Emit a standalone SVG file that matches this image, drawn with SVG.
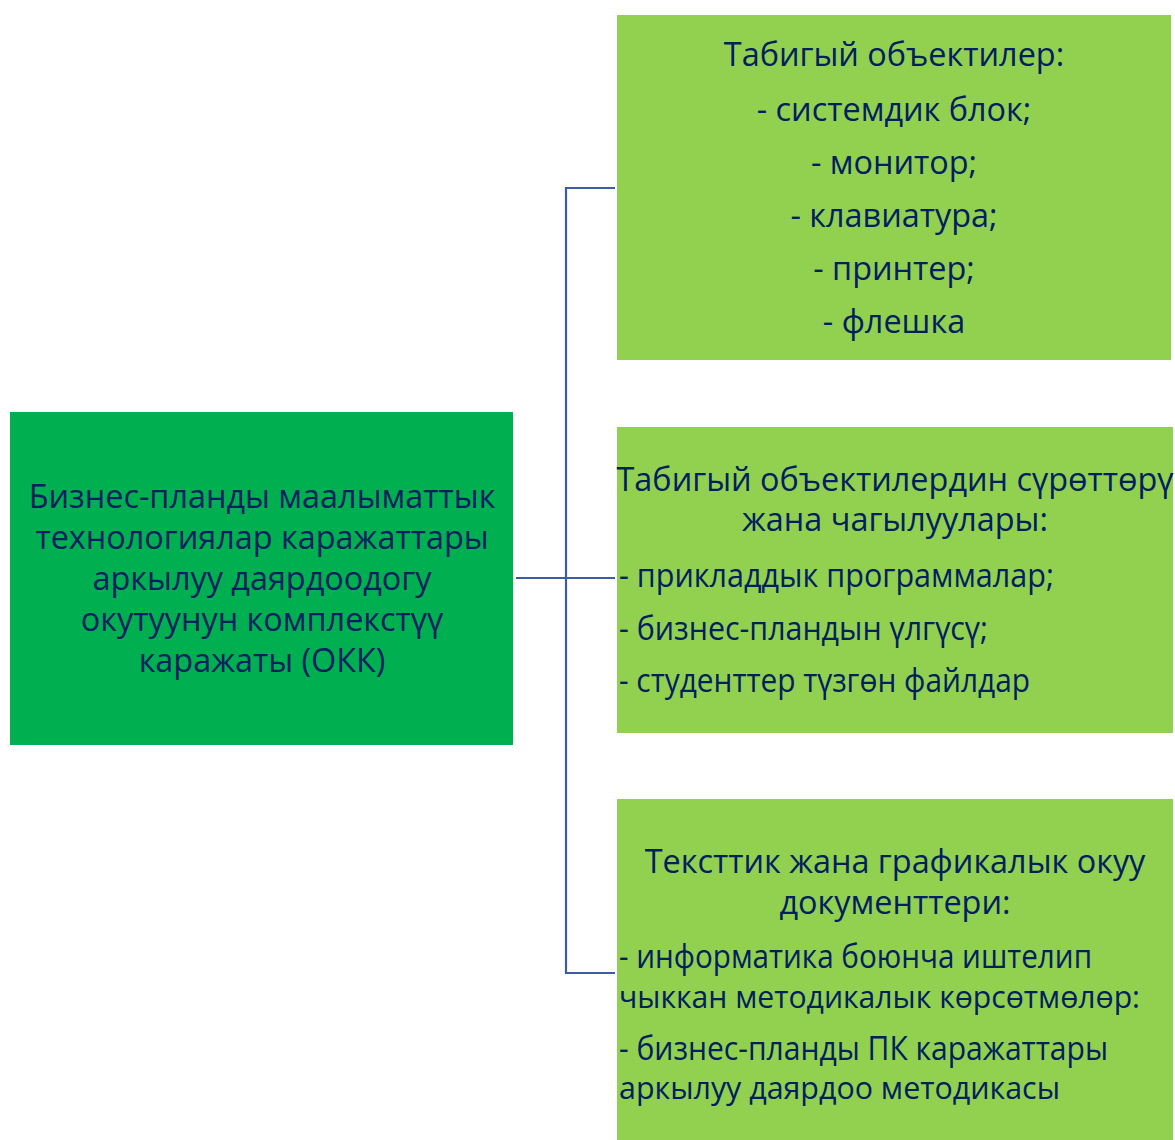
<svg xmlns="http://www.w3.org/2000/svg" width="1175" height="1140" viewBox="0 0 1175 1140">
<style>
.t{font-family:"Open Sans","Noto Sans","Liberation Sans",sans-serif;font-size:32.4px;fill:#002060}
.s{font-size:30.4px}
.c{text-anchor:middle}
.main{fill:#00B050}
.sub{fill:#92D050}
.ln{stroke:#3C5DA0;stroke-width:2.2;fill:none}
</style>
<rect width="1175" height="1140" fill="#ffffff"/>
<g id="connectors">
<polyline class="ln" points="615,188 566,188 566,973 615,973"/>
<line class="ln" x1="516" y1="578" x2="615" y2="578"/>
</g>
<g id="node-main">
<rect class="main" x="10" y="412" width="503" height="333"/>
<text class="t c" x="262" y="508">Бизнес-планды маалыматтык</text>
<text class="t c" x="262" y="549">технологиялар каражаттары</text>
<text class="t c" x="262" y="590">аркылуу даярдоодогу</text>
<text class="t c" x="262" y="631">окутуунун комплекстүү</text>
<text class="t c" x="262" y="672">каражаты (ОКК)</text>
</g>
<g id="node-1">
<rect class="sub" x="617" y="15" width="554" height="345"/>
<text class="t c" x="894" y="66">Табигый объектилер:</text>
<text class="t c" x="894" y="121">- системдик блок;</text>
<text class="t c" x="894" y="174">- монитор;</text>
<text class="t c" x="894" y="227">- клавиатура;</text>
<text class="t c" x="894" y="280">- принтер;</text>
<text class="t c" x="894" y="333">- флешка</text>
</g>
<g id="node-2">
<rect class="sub" x="617" y="427" width="556" height="306"/>
<text class="t c" x="895" y="491">Табигый объектилердин сүрөттөрү</text>
<text class="t c" x="895" y="531">жана чагылуулары:</text>
<text class="t" x="619" y="587" textLength="435" lengthAdjust="spacingAndGlyphs">- прикладдык программалар;</text>
<text class="t" x="619" y="640" textLength="369" lengthAdjust="spacingAndGlyphs">- бизнес-пландын үлгүсү;</text>
<text class="t" x="619" y="692" textLength="411" lengthAdjust="spacingAndGlyphs">- студенттер түзгөн файлдар</text>
</g>
<g id="node-3">
<rect class="sub" x="617" y="799" width="556" height="341"/>
<text class="t c" x="895" y="873">Тексттик жана графикалык окуу</text>
<text class="t c" x="895" y="914">документтери:</text>
<text class="t" x="619" y="968" textLength="473" lengthAdjust="spacingAndGlyphs">- информатика боюнча иштелип</text>
<text class="t s" x="619" y="1008" textLength="521" lengthAdjust="spacingAndGlyphs">чыккан методикалык көрсөтмөлөр:</text>
<text class="t" x="619" y="1060" textLength="489" lengthAdjust="spacingAndGlyphs">- бизнес-планды ПК каражаттары</text>
<text class="t s" x="619" y="1099" textLength="441" lengthAdjust="spacingAndGlyphs">аркылуу даярдоо методикасы</text>
</g>
</svg>
